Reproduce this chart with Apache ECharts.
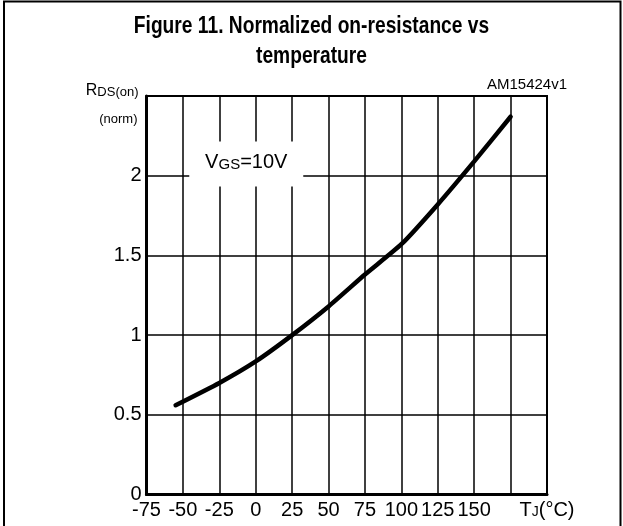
<!DOCTYPE html>
<html>
<head>
<meta charset="utf-8">
<script src="https://cdn.jsdelivr.net/npm/echarts@6/dist/echarts.min.js"></script>
<style>
html,body{margin:0;padding:0;background:#fff;}
#c{width:623px;height:526px;}
</style>
</head>
<body>
<div id="c"></div>
<script>
// Data
var temps = [-55, -25, 0, 25, 50, 75, 100, 125, 150, 175];
var rdsNorm = [0.56, 0.70, 0.835, 1.0, 1.18, 1.38, 1.57, 1.82, 2.09, 2.37];
var xTicks = [-75, -50, -25, 0, 25, 50, 75, 100, 125, 150, 175, 200];
var yTicks = [0, 0.5, 1, 1.5, 2, 2.5];
var annotation = {t: -6.5, r: 2.074};
var titleLines = ['Figure 11. Normalized on-resistance vs', 'temperature'];

var FONT = '"Liberation Sans", Arial, sans-serif';
var chart = echarts.init(document.getElementById('c'), null, {renderer: 'canvas'});

var option = {
  backgroundColor: '#fff',
  animation: false,
  grid: {
    left: 146.5, top: 96, right: 76, bottom: 31.5,
    show: true, borderColor: '#000', borderWidth: 2, backgroundColor: 'transparent'
  },
  xAxis: {
    type: 'value',
    min: xTicks[0], max: xTicks[xTicks.length - 1], interval: 25,
    axisLine: {show: true, onZero: false, lineStyle: {color: '#000', width: 3}},
    axisTick: {show: false},
    splitLine: {show: true, lineStyle: {color: '#000', width: 1.5}},
    axisLabel: {
      margin: 6, color: '#000', fontFamily: FONT, fontSize: 20,
      showMinLabel: true, showMaxLabel: true,
      formatter: function (v) {
        if (v === 175) return '';
        if (v === 200) return '{t|T}{s|J}{t|(°C)}';
        return String(v);
      },
      rich: {
        t: {fontFamily: FONT, fontSize: 20, color: '#000'},
        s: {fontFamily: FONT, fontSize: 14, color: '#000', padding: [4, 0, 0, 0]}
      }
    }
  },
  yAxis: {
    type: 'value',
    min: yTicks[0], max: yTicks[yTicks.length - 1], interval: 0.5,
    axisLine: {show: true, onZero: false, lineStyle: {color: '#000', width: 3}},
    axisTick: {show: false},
    splitLine: {show: true, lineStyle: {color: '#000', width: 1.5}},
    axisLabel: {
      margin: 5, color: '#000', fontFamily: FONT, fontSize: 20,
      showMaxLabel: true,
      formatter: function (v) {
        if (v === 2.5) return '';
        return String(v);
      }
    }
  },
  series: [
    {
      type: 'line',
      data: temps.map(function (t, i) { return [t, rdsNorm[i]]; }),
      smooth: 0.2,
      showSymbol: false,
      lineStyle: {color: '#000', width: 4.5, cap: 'round'},
      z: 3
    }
  ]
};
chart.setOption(option);

var topLeft = chart.convertToPixel({gridIndex: 0}, [xTicks[0], yTicks[yTicks.length - 1]]);
var annPos = chart.convertToPixel({gridIndex: 0}, [annotation.t, annotation.r]);
chart.setOption({
  graphic: [
    {
      type: 'rect',
      shape: {x: 4, y: 1.5, width: 616.5, height: 560},
      style: {fill: 'none', stroke: '#000', lineWidth: 2},
      silent: true, z: 0
    },
    {
      type: 'text',
      x: 311.5, y: 38, scaleX: 0.8,
      style: {text: titleLines[0], align: 'center', verticalAlign: 'bottom', font: 'bold 24px ' + FONT, fill: '#000'},
      silent: true
    },
    {
      type: 'text',
      x: 311.5, y: 68, scaleX: 0.8,
      style: {text: titleLines[1], align: 'center', verticalAlign: 'bottom', font: 'bold 24px ' + FONT, fill: '#000'},
      silent: true
    },
    {
      type: 'rect',
      shape: {x: annPos[0] - 57, y: annPos[1] - 22.5, width: 114, height: 45},
      style: {fill: '#fff', stroke: 'none'},
      silent: true, z: 50
    },
    {
      type: 'text',
      x: annPos[0], y: annPos[1] - 1,
      z: 51,
      style: {
        text: '{v|V}{g|GS}{v|=10V}',
        align: 'center', verticalAlign: 'middle',
        rich: {
          v: {fontFamily: FONT, fontSize: 20, fill: '#000', lineHeight: 22},
          g: {fontFamily: FONT, fontSize: 15, fill: '#000', padding: [3, 0, 0, 0], lineHeight: 22}
        }
      },
      silent: true
    },
    {
      type: 'text',
      x: topLeft[0] - 8, y: topLeft[1] + 3,
      style: {
        text: '{r|R}{s|DS(on)}',
        align: 'right', verticalAlign: 'bottom',
        rich: {
          r: {fontFamily: FONT, fontSize: 16, fill: '#000'},
          s: {fontFamily: FONT, fontSize: 13, fill: '#000', padding: [2, 0, 0, 0]}
        }
      },
      silent: true
    },
    {
      type: 'text',
      x: topLeft[0] - 9, y: topLeft[1] + 23,
      style: {text: '(norm)', align: 'right', verticalAlign: 'middle', font: '13px ' + FONT, fill: '#000'},
      silent: true
    },
    {
      type: 'text',
      x: 567, y: 85,
      style: {text: 'AM15424v1', align: 'right', verticalAlign: 'middle', font: '15px ' + FONT, fill: '#000'},
      silent: true
    }
  ]
});
</script>
</body>
</html>
